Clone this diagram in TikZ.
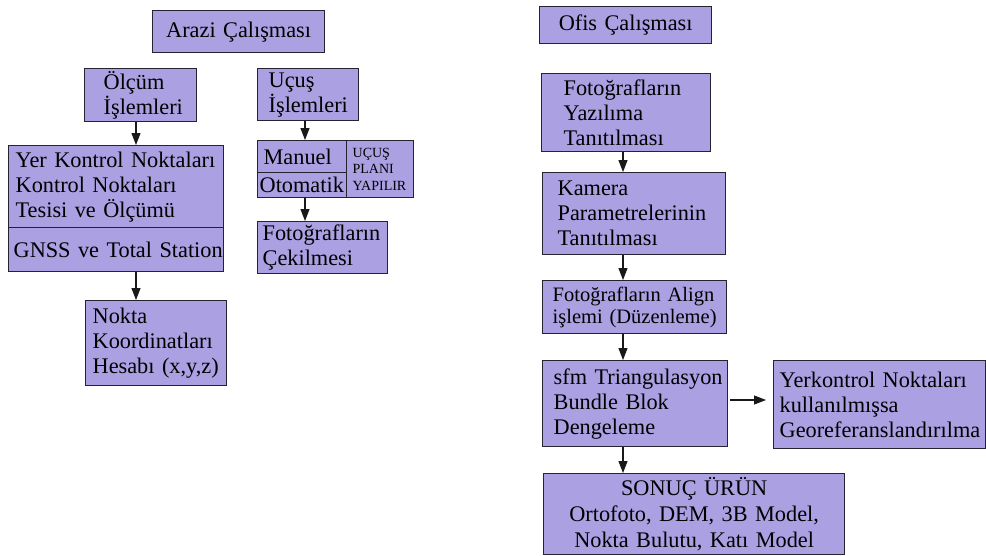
\documentclass[tikz,border=0pt]{standalone}
\usepackage{fontspec}
\setmainfont{Liberation Serif}
\usetikzlibrary{arrows.meta}
\definecolor{boxfill}{RGB}{170,160,226}
\definecolor{edge}{RGB}{35,35,50}
\tikzset{
  bx/.style={draw=edge, fill=boxfill, line width=1.3pt, anchor=north west,
    inner ysep=0pt, align=left, text=black,
    font=\fontsize{22.3}{25}\selectfont},
  arr/.style={line width=1.1pt, draw=black!90, -{Triangle[length=12pt,width=9pt]}},
}
\begin{document}
\begin{tikzpicture}[x=1pt,y=-1pt]
\fill[white] (0,0) rectangle (986,555);
\useasboundingbox (0,0) rectangle (986,555);
\coordinate (c1) at (136,0);
\coordinate (c2) at (305,0);
\coordinate (c3) at (623,0);
\coordinate (c4) at (0,400);
% left column
\node[bx, minimum height=42pt, inner xsep=8pt, text width=156pt, align=center] (arazi) at (152,10) {Arazi Çalışması};
\node[bx, minimum height=53pt, inner xsep=19pt, text width=74pt] (olcum) at (84,68) {\mbox{Ölçüm}\\\mbox{İşlemleri}};
\node[bx, minimum height=52pt, inner xsep=11pt, text width=79pt] (ucus) at (257,68) {\mbox{Uçuş}\\\mbox{İşlemleri}};
\node[bx, minimum height=82pt, inner xsep=7pt, text width=201pt] (yer) at (8,145) {\mbox{Yer Kontrol Noktaları}\\\mbox{Kontrol Noktaları}\\\mbox{Tesisi ve Ölçümü}};
\node[bx, minimum height=44pt, inner xsep=5pt, text width=205pt] (gnss) at (8,227) {\mbox{GNSS ve Total Station}};
\node[bx, minimum height=85pt, inner xsep=7pt, text width=127pt] (nokta) at (85,300) {\mbox{Nokta}\\\mbox{Koordinatları}\\\mbox{Hesabı (x,y,z)}};
\node[bx, minimum height=32pt, inner xsep=6pt, text width=77pt] (manuel) at (257,140) {\mbox{Manuel}};
\node[bx, minimum height=25pt, inner xsep=2pt, text width=85pt] (otomatik) at (257,172) {\mbox{Otomatik}};
\node[bx, minimum height=57pt, inner xsep=6pt, text width=55pt, font=\fontsize{14}{16.7}\selectfont] (plan) at (346,140) {\mbox{UÇUŞ}\\\mbox{PLANI}\\\mbox{YAPILIR}};
\node[bx, minimum height=52pt, inner xsep=5pt, text width=120pt] (cekil) at (257,221) {\mbox{Fotoğrafların}\\\mbox{Çekilmesi}};
% right column
\node[bx, minimum height=37pt, inner xsep=8pt, text width=156pt, align=center] (ofis) at (539,6) {Ofis Çalışması};
\node[bx, minimum height=78pt, inner xsep=22pt, text width=125pt] (yazilim) at (541,73) {\mbox{Fotoğrafların}\\\mbox{Yazılıma}\\\mbox{Tanıtılması}};
\node[bx, minimum height=82pt, inner xsep=15pt, text width=153pt] (kamera) at (542,172) {\mbox{Kamera}\\\mbox{Parametrelerinin}\\\mbox{Tanıtılması}};
\node[bx, minimum height=53pt, inner xsep=10pt, text width=164pt, font=\fontsize{20.5}{22}\selectfont] (align) at (542,280) {\mbox{Fotoğrafların Align}\\\mbox{işlemi (Düzenleme)}};
\node[bx, minimum height=86pt, inner xsep=11pt, text width=163pt] (sfm) at (542,360) {\mbox{sfm Triangulasyon}\\\mbox{Bundle Blok}\\\mbox{Dengeleme}};
\node[bx, minimum height=88pt, inner xsep=6pt, text width=200pt] (yerk) at (773,360) {\mbox{Yerkontrol Noktaları}\\\mbox{kullanılmışsa}\\\mbox{Georeferanslandırılma}};
\node[bx, minimum height=81pt, inner xsep=6pt, text width=289pt, align=center, font=\fontsize{22.3}{26}\selectfont] (sonuc) at (543,473) {SONUÇ ÜRÜN\\Ortofoto, DEM, 3B Model,\\Nokta Bulutu, Katı Model};
% arrows
\draw[arr] (olcum.south -| c1) -- (yer.north -| c1);
\draw[arr] (gnss.south -| c1) -- (nokta.north -| c1);
\draw[arr] (ucus.south -| c2) -- (manuel.north -| c2);
\draw[arr] (otomatik.south -| c2) -- (cekil.north -| c2);
\draw[arr] (yazilim.south -| c3) -- (kamera.north -| c3);
\draw[arr] (kamera.south -| c3) -- (align.north -| c3);
\draw[arr] (align.south -| c3) -- (sfm.north -| c3);
\draw[arr] (sfm.south -| c3) -- (sonuc.north -| c3);
\draw[arr, shorten <=2pt, shorten >=7pt] (sfm.east |- c4) -- (yerk.west |- c4);
\end{tikzpicture}
\end{document}
